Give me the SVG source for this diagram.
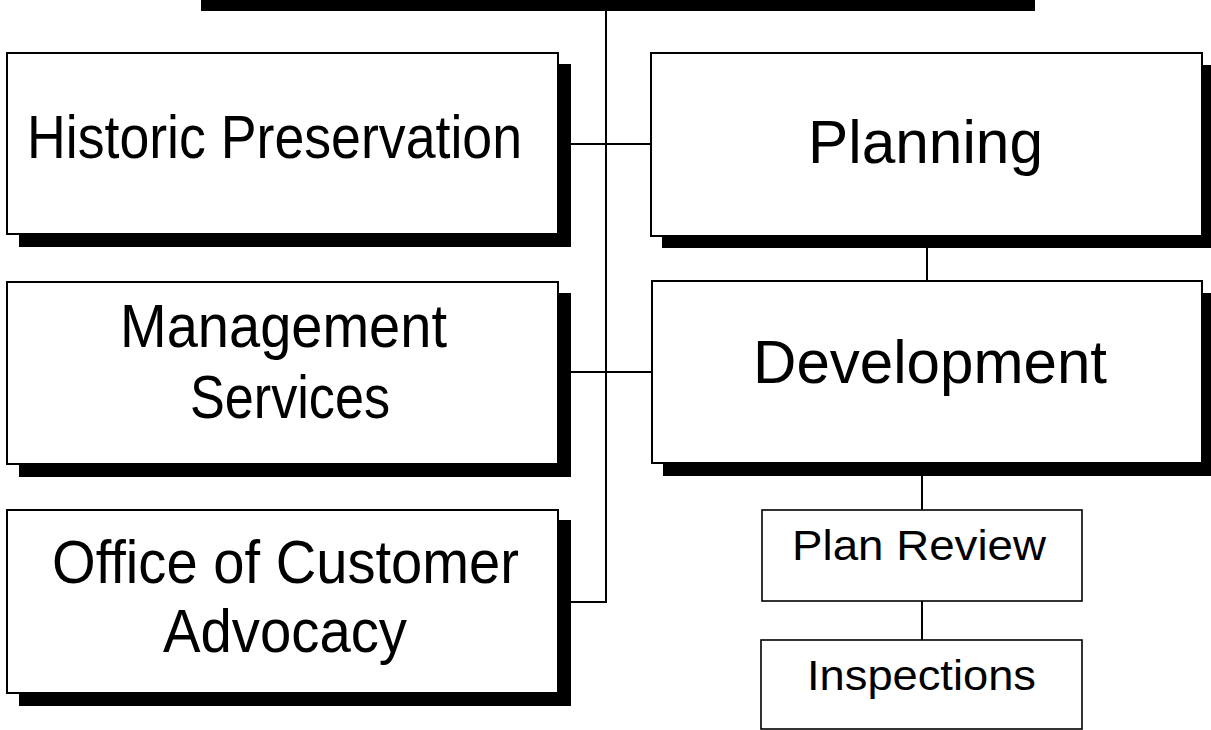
<svg xmlns="http://www.w3.org/2000/svg" width="1211" height="730" viewBox="0 0 1211 730">
<style>
.box{fill:#fff;stroke:#000;stroke-width:2}
.sbox{fill:#fff;stroke:#000;stroke-width:1.6}
.sh{fill:#000}
.ln{stroke:#000;stroke-width:2;fill:none}
text{font-family:"Liberation Sans",Arial,sans-serif;fill:#000}
</style>
<rect width="1211" height="730" fill="#fff"/>
<g id="connectors">
<rect x="201" y="0" width="834" height="11" fill="#000"/>
<path class="ln" d="M606 11V602H571"/>
<path class="ln" d="M571 144H651"/>
<path class="ln" d="M571 372H652"/>
<path class="ln" d="M927 248V281"/>
<path class="ln" d="M922 476V510"/>
<path class="ln" d="M922 601V640"/>
</g>
<g id="historic">
<rect class="sh" x="19" y="64" width="552" height="183"/>
<rect class="box" x="7" y="53" width="551" height="181"/>
<text x="27" y="158" font-size="61" textLength="495" lengthAdjust="spacingAndGlyphs">Historic Preservation</text>
</g>
<g id="management">
<rect class="sh" x="19" y="293" width="552" height="184"/>
<rect class="box" x="7" y="282" width="551" height="182"/>
<text x="120" y="347" font-size="61" textLength="327" lengthAdjust="spacingAndGlyphs">Management</text>
<text x="190" y="418" font-size="61" textLength="200" lengthAdjust="spacingAndGlyphs">Services</text>
</g>
<g id="office">
<rect class="sh" x="19" y="520" width="552" height="186"/>
<rect class="box" x="7" y="510" width="551" height="183"/>
<text x="52" y="583" font-size="61" textLength="467" lengthAdjust="spacingAndGlyphs">Office of Customer</text>
<text x="163" y="652" font-size="61" textLength="244" lengthAdjust="spacingAndGlyphs">Advocacy</text>
</g>
<g id="planning">
<rect class="sh" x="662" y="65" width="549" height="183"/>
<rect class="box" x="651" y="53" width="551" height="183"/>
<text x="808" y="163" font-size="62" textLength="235" lengthAdjust="spacingAndGlyphs">Planning</text>
</g>
<g id="development">
<rect class="sh" x="663" y="293" width="548" height="183"/>
<rect class="box" x="652" y="281" width="550" height="182"/>
<text x="753" y="383" font-size="62" textLength="354" lengthAdjust="spacingAndGlyphs">Development</text>
</g>
<g id="planreview">
<rect class="sbox" x="762" y="510" width="320" height="91"/>
<text x="792" y="560" font-size="42" textLength="254" lengthAdjust="spacingAndGlyphs">Plan Review</text>
</g>
<g id="inspections">
<rect class="sbox" x="761" y="640" width="321" height="89"/>
<text x="807" y="690" font-size="42" textLength="229" lengthAdjust="spacingAndGlyphs">Inspections</text>
</g>
</svg>
